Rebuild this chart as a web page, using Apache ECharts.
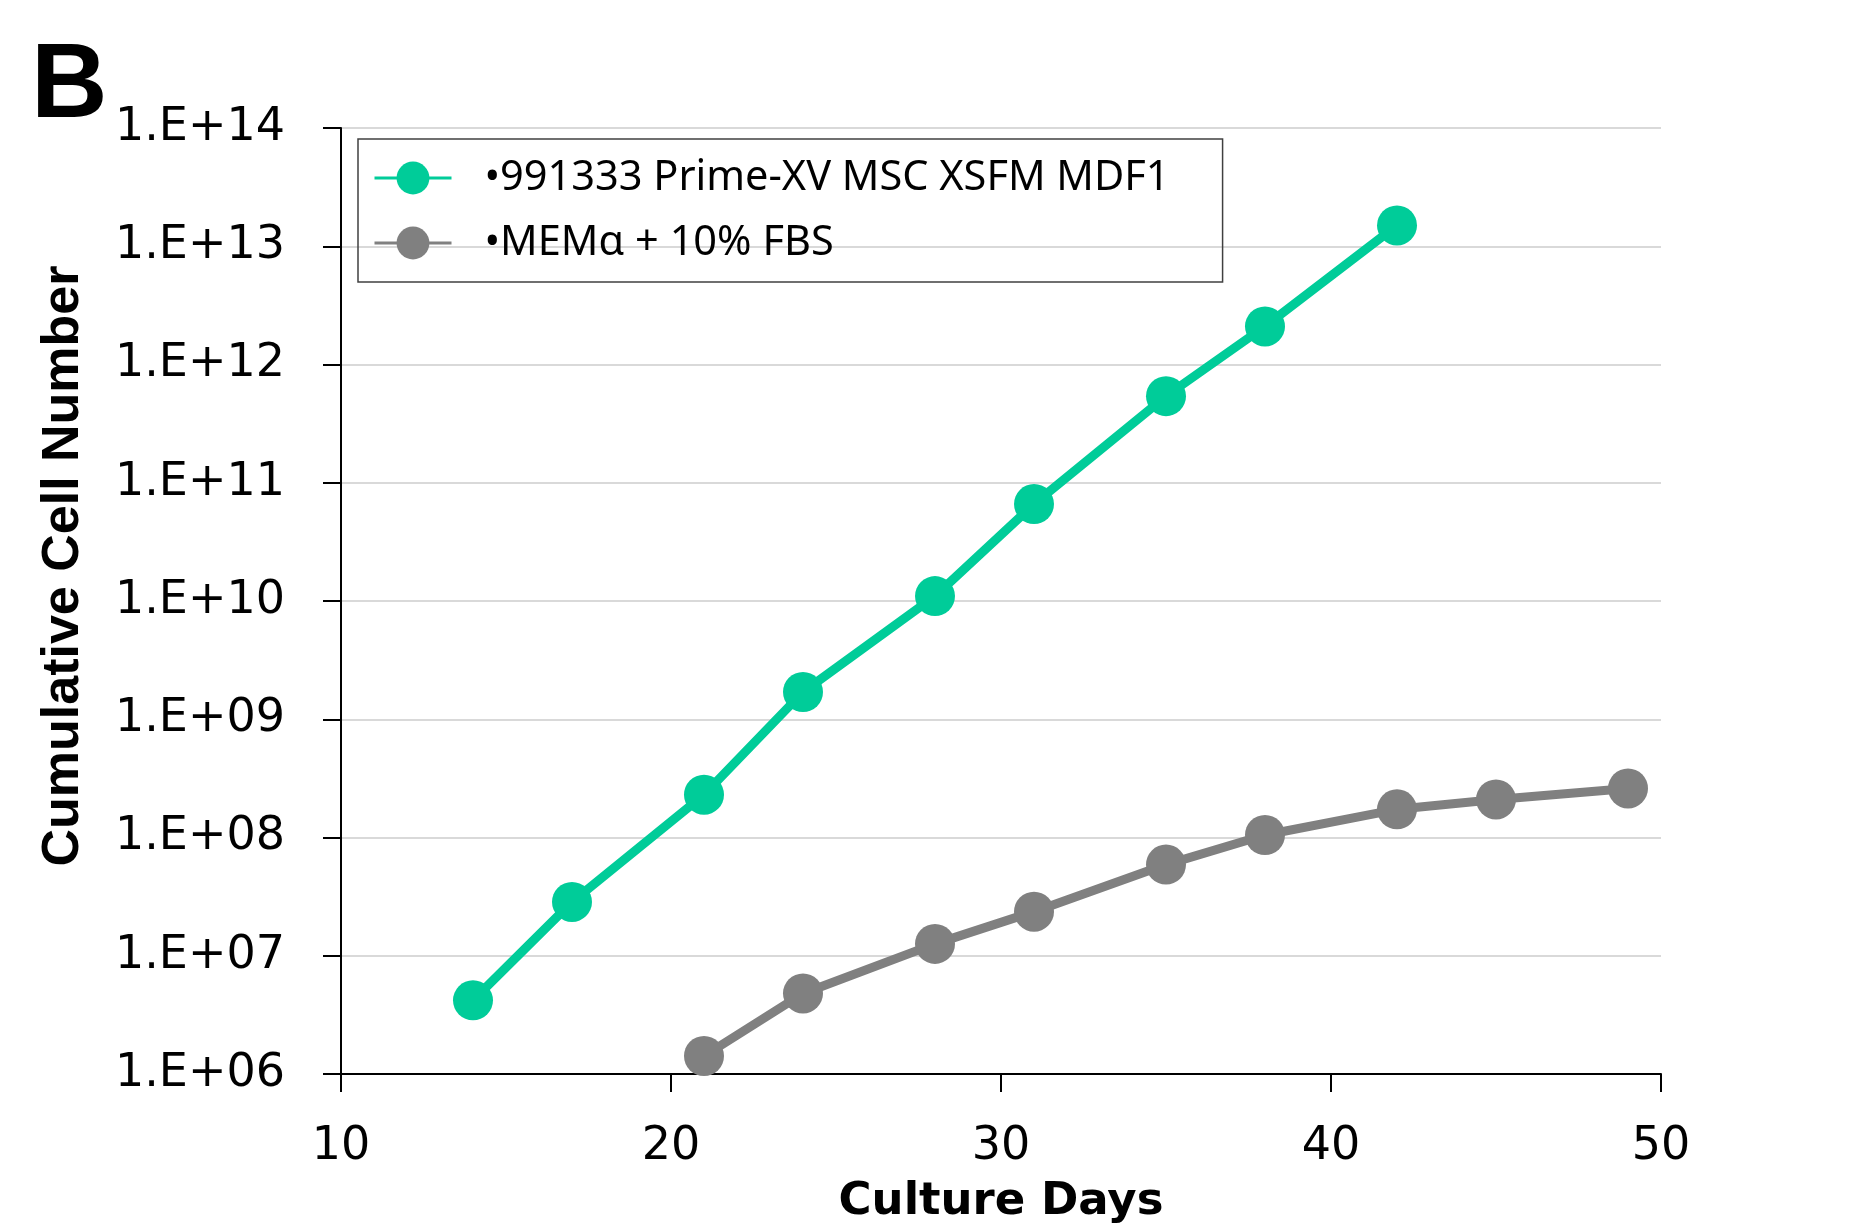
<!DOCTYPE html>
<html><head><meta charset="utf-8">
<script src="https://cdn.jsdelivr.net/npm/echarts@6/dist/echarts.min.js"></script>
<style>html,body{margin:0;padding:0;background:#fff}#chart{width:1875px;height:1231px}</style>
</head><body><div id="chart"></div>
<script>
const seriesNames = ['•991333 Prime-XV MSC XSFM MDF1', '•MEMα + 10% FBS'];
const primeDays = [14, 17, 21, 24, 28, 31, 35, 38, 42];
const primeCells = [4.2e6, 2.85e7, 2.3e8, 1.7e9, 1.1e10, 6.6e10, 5.4e11, 2.1e12, 1.5e13];
const memDays = [21, 24, 28, 31, 35, 38, 42, 45, 49];
const memCells = [1.42e6, 4.8e6, 1.26e7, 2.36e7, 5.9e7, 1.05e8, 1.73e8, 2.1e8, 2.6e8];
const xTickLabels = ['10', '20', '30', '40', '50'];
const yTickLabels = ['1.E+06', '1.E+07', '1.E+08', '1.E+09', '1.E+10', '1.E+11', '1.E+12', '1.E+13', '1.E+14'];
const colors = ['#00CC99', '#808080'];

const chart = echarts.init(document.getElementById('chart'), null, {renderer: 'canvas'});
const option = {
  backgroundColor: '#fff',
  animation: false,
  grid: {left: 341, right: 214, top: 128, bottom: 157, containLabel: false},
  legend: {
    orient: 'vertical', left: 358, top: 139,
    itemWidth: 77, itemHeight: 41, itemGap: 23,
    padding: [18, 53, 18, 15],
    borderColor: '#404040', borderWidth: 1.5,
    textStyle: {fontFamily: 'Noto Sans', fontSize: 41.5, color: '#000', padding: [7, 0, 0, 28]},
    lineStyle: {width: 3},
    data: seriesNames
  },
  xAxis: {
    type: 'value', min: 10, max: 50, interval: 10,
    axisLine: {show: true, lineStyle: {color: '#000', width: 2}},
    axisTick: {show: true, length: 18, lineStyle: {color: '#000', width: 2}},
    axisLabel: {fontFamily: 'DejaVu Sans', fontSize: 46, color: '#000', margin: 50,
      formatter: v => xTickLabels[Math.round((v - 10) / 10)]},
    splitLine: {show: false},
    name: 'Culture Days', nameLocation: 'middle', nameGap: 106,
    nameTextStyle: {fontFamily: 'DejaVu Sans', fontWeight: 'bold', fontSize: 45, color: '#000'}
  },
  yAxis: {
    type: 'log', logBase: 10, min: 1e6, max: 1e14,
    axisLine: {show: true, lineStyle: {color: '#000', width: 2}},
    axisTick: {show: true, length: 18, lineStyle: {color: '#000', width: 2}},
    axisLabel: {fontFamily: 'DejaVu Sans', fontSize: 46, color: '#000', margin: 56, padding: [0, 0, 8, 0],
      formatter: v => yTickLabels[Math.round(Math.log10(v)) - 6]},
    splitLine: {show: true, lineStyle: {color: '#D9D9D9', width: 2}}
  },
  series: [
    {name: seriesNames[0], type: 'line', data: primeDays.map((d, i) => [d, primeCells[i]]),
     symbol: 'circle', symbolSize: 40, color: colors[0],
     lineStyle: {width: 9, color: colors[0]}, itemStyle: {color: colors[0]}, z: 3},
    {name: seriesNames[1], type: 'line', data: memDays.map((d, i) => [d, memCells[i]]),
     symbol: 'circle', symbolSize: 40, color: colors[1],
     lineStyle: {width: 9, color: colors[1]}, itemStyle: {color: colors[1]}, z: 2}
  ],
  graphic: [
    {type: 'text', x: 31, y: 88, style: {text: 'B', fontFamily: 'Liberation Sans', fontWeight: 'bold', fontSize: 106, fill: '#000', align: 'left', verticalAlign: 'middle'}},
    {type: 'text', x: 64, y: 566, rotation: Math.PI / 2, style: {text: 'Cumulative Cell Number', fontFamily: 'Liberation Sans', fontWeight: 'bold', fontSize: 52, fill: '#000', align: 'center', verticalAlign: 'middle'}}
  ]
};
chart.setOption(option);
</script></body></html>
